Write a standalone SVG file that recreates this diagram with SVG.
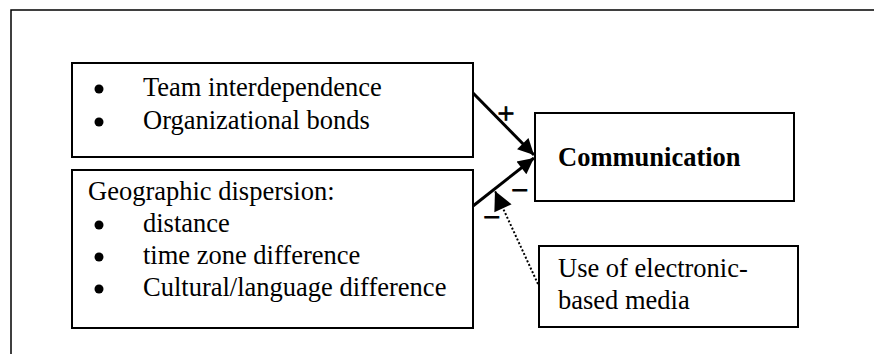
<svg xmlns="http://www.w3.org/2000/svg" width="874" height="354" viewBox="0 0 874 354">
<defs>
<style>
.box{fill:#fff;stroke:#000;stroke-width:2}
.t{font-family:"Liberation Serif","Times New Roman",serif;font-size:26.5px;fill:#000}
.b{font-weight:bold}
.s{font-size:30px;stroke:#000;stroke-width:1}
.ln{fill:none;stroke:#000;stroke-width:3}
.dot{fill:none;stroke:#000;stroke-width:2;stroke-dasharray:2 2}
</style>
<marker id="ah" viewBox="0 0 10 10" refX="10" refY="5" markerUnits="userSpaceOnUse" markerWidth="20" markerHeight="16" orient="auto">
<path d="M0,0 L10,5 L0,10 z" fill="#000"/>
</marker>
<marker id="ah2" viewBox="0 0 10 10" refX="10" refY="5" markerUnits="userSpaceOnUse" markerWidth="23" markerHeight="19" orient="auto">
<path d="M0,0 L10,5 L0,10 z" fill="#000"/>
</marker>
</defs>
<rect width="874" height="354" fill="#fff"/>
<path d="M11,354 V10 H874" fill="none" stroke="#000" stroke-width="1.5"/>
<g id="connectors">
<line class="ln" x1="473" y1="93" x2="534" y2="155" marker-end="url(#ah)"/>
<line class="ln" x1="473" y1="206" x2="534" y2="158" marker-end="url(#ah)"/>
<line class="dot" x1="538" y1="284" x2="495" y2="191" marker-end="url(#ah2)"/>
<text class="t s" x="506" y="123" text-anchor="middle">+</text>
<text class="t s" x="520" y="200" text-anchor="middle">−</text>
<text class="t s" x="492" y="227" text-anchor="middle">−</text>
</g>
<g id="n1">
<rect class="box" x="72" y="63" width="401" height="94"/>
<circle cx="99" cy="89" r="4.5"/>
<circle cx="99" cy="122" r="4.5"/>
<text class="t" x="143" y="96">Team interdependence</text>
<text class="t" x="143" y="129">Organizational bonds</text>
</g>
<g id="n2">
<rect class="box" x="72" y="170" width="401" height="158"/>
<text class="t" x="88" y="200">Geographic dispersion:</text>
<circle cx="99" cy="225" r="4.5"/>
<circle cx="99" cy="257" r="4.5"/>
<circle cx="99" cy="289" r="4.5"/>
<text class="t" x="143" y="232">distance</text>
<text class="t" x="143" y="264">time zone difference</text>
<text class="t" x="143" y="296">Cultural/language difference</text>
</g>
<g id="n3">
<rect class="box" x="535" y="113" width="259" height="88"/>
<text class="t b" x="558" y="166">Communication</text>
</g>
<g id="n4">
<rect class="box" x="539" y="246" width="259" height="81"/>
<text class="t" x="558" y="277">Use of electronic-</text>
<text class="t" x="558" y="309">based media</text>
</g>
</svg>
